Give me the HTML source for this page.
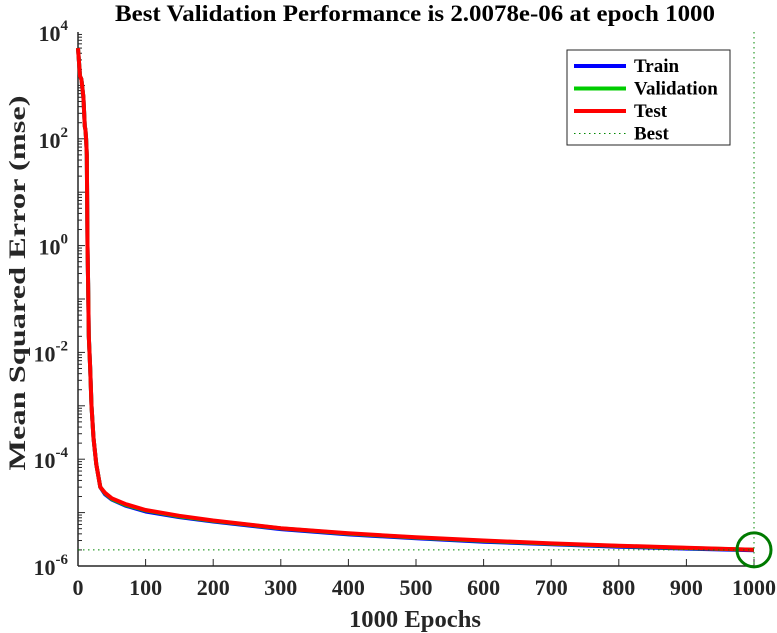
<!DOCTYPE html>
<html><head><meta charset="utf-8"><style>body{margin:0;background:#fff}svg{display:block}text{font-family:"Liberation Serif",serif;font-weight:bold;fill:#262626}</style></head>
<body>
<svg id="chart" width="777" height="633">
<text x="415" y="21" text-anchor="middle" font-size="23" textLength="600" lengthAdjust="spacingAndGlyphs" style="fill:#000">Best Validation Performance is 2.0078e-06 at epoch 1000</text>
<text x="415" y="627" text-anchor="middle" font-size="24" textLength="132" lengthAdjust="spacingAndGlyphs">1000 Epochs</text>
<text transform="translate(25,283) rotate(-90)" text-anchor="middle" font-size="23" textLength="375" lengthAdjust="spacingAndGlyphs">Mean Squared Error  (mse)</text>
<g id="axes"></g><g id="series"></g><g id="legend"></g>
</svg>
<script>
const epochs=[0,3,5,8,10,11,12,13,14,15,16,18,20,23,27,33,40,50,70,100,150,200,300,400,500,600,700,800,900,1000];
const trainMse=[5000,1500,1300,600,170,150,100,50,1,0.2,0.02,0.005,0.001,2.5e-4,8e-5,3e-5,2.2e-5,1.75e-5,1.35e-5,1.05e-5,8.2e-6,6.8e-6,4.9e-6,3.9e-6,3.3e-6,2.85e-6,2.55e-6,2.3e-6,2.12e-6,1.98e-6];
const validationMse=[5000,1500,1300,600,170,150,100,50,1,0.2,0.02,0.005,0.001,2.5e-4,8e-5,3e-5,2.3e-5,1.8e-5,1.4e-5,1.1e-5,8.5e-6,7e-6,5.05e-6,4.05e-6,3.4e-6,2.95e-6,2.62e-6,2.37e-6,2.17e-6,2.0078e-6];
const testMse=[5000,1500,1300,600,170,150,100,50,1,0.2,0.02,0.005,0.001,2.5e-4,8e-5,3e-5,2.35e-5,1.85e-5,1.45e-5,1.12e-5,8.7e-6,7.1e-6,5.1e-6,4.1e-6,3.45e-6,3e-6,2.65e-6,2.4e-6,2.2e-6,2.02e-6];
const xTicks=[0,100,200,300,400,500,600,700,800,900,1000];
const yTickExps=[4,2,0,-2,-4,-6];
const bestEpoch=1000, bestValue=2.0078e-6;
const NS="http://www.w3.org/2000/svg";
const L=78,R=754,T=32,B=566;
const xS=v=>L+(v/1000)*(R-L);
const yS=v=>B-(Math.log10(v)+6)/10*(B-T);
function mk(tag,attrs,parent){const e=document.createElementNS(NS,tag);for(const k in attrs)e.setAttribute(k,attrs[k]);parent.appendChild(e);return e;}
const ax=document.getElementById('axes');
let e=mk('rect',{x:L,y:T,width:R-L,height:B-T,fill:'#fff'},ax);


e=mk('line',{x1:L,y1:B,x2:R,y2:B,stroke:'#262626','stroke-width':1.5},ax);


e=mk('line',{x1:L,y1:T,x2:L,y2:B,stroke:'#262626','stroke-width':1.5},ax);


xTicks.forEach(t=>{const x=xS(t);mk('line',{x1:x,y1:B,x2:x,y2:B-7,stroke:'#262626'},ax);
 const tx=mk('text',{x:x,y:B+29,'text-anchor':'middle','font-size':22},ax);tx.textContent=t;
 
 });
for(let d=-6;d<4;d++){for(let m=1;m<10;m++){const y=yS(m*Math.pow(10,d));mk('line',{x1:L,y1:y,x2:L+(m==1?7:4),y2:y,stroke:'#262626'},ax);}}
yTickExps.forEach(p=>{const y=yS(Math.pow(10,p));
 const tx=mk('text',{x:L-10,y:y+9,'text-anchor':'end','font-size':22},ax);
 
 
 const a=mk('tspan',{},tx);a.textContent='10';const b=mk('tspan',{dy:-11,'font-size':15},tx);b.textContent=p;});
const se=document.getElementById('series');
function path(vals,col,w,name){const d=vals.map((v,i)=>(i?'L':'M')+xS(epochs[i]).toFixed(1)+','+yS(v).toFixed(1)).join('');
 const p=mk('path',{d:d,fill:'none',stroke:col,'stroke-width':w,'stroke-linejoin':'round'},se);
 
 }
path(trainMse,'#0000ff',4,'train-line');
path(validationMse,'#00cc00',4,'validation-line');
path(testMse,'#ff0000',4,'test-line');
e=mk('line',{x1:L,y1:yS(bestValue),x2:R,y2:yS(bestValue),stroke:'#008800','stroke-dasharray':'1.5,3.5'},se);


e=mk('line',{x1:xS(bestEpoch),y1:T,x2:xS(bestEpoch),y2:B,stroke:'#008800','stroke-dasharray':'1.5,3.5'},se);


e=mk('circle',{cx:xS(bestEpoch),cy:yS(bestValue),r:17,fill:'none',stroke:'#007a00','stroke-width':3},se);


const lg=document.getElementById('legend');
e=mk('rect',{x:567,y:50,width:163,height:95,fill:'#fff',stroke:'#262626'},lg);


const items=[['Train','#0000ff',4,''],['Validation','#00cc00',4,''],['Test','#ff0000',4,''],['Best','#008800',1,'1.5,3.5']];
items.forEach((it,i)=>{const y=66+i*22.5;const g=mk('g',{},lg);
 
 
 mk('line',{x1:574,y1:y,x2:626,y2:y,stroke:it[1],'stroke-width':it[2],'stroke-dasharray':it[3]},g);
 const t=mk('text',{x:634,y:y+6,'font-size':19,style:'fill:#000'},g);t.textContent=it[0];});
</script>
</body></html>
